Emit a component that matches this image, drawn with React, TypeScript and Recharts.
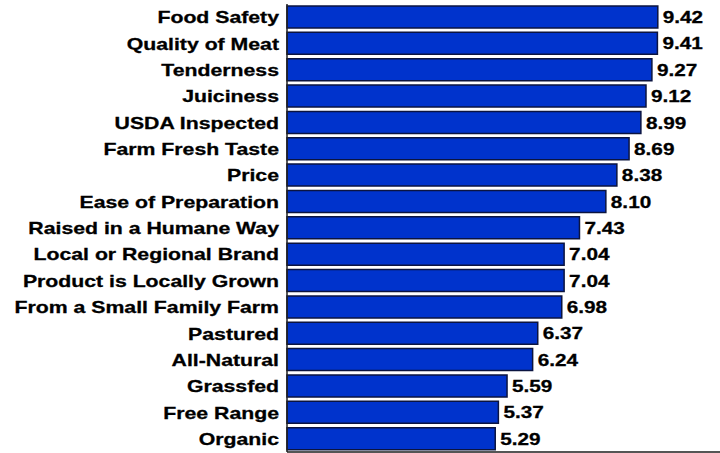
import { BarChart, Bar, XAxis, YAxis, LabelList } from "recharts";

const attributes = [
  "Food Safety",
  "Quality of Meat",
  "Tenderness",
  "Juiciness",
  "USDA Inspected",
  "Farm Fresh Taste",
  "Price",
  "Ease of Preparation",
  "Raised in a Humane Way",
  "Local or Regional Brand",
  "Product is Locally Grown",
  "From a Small Family Farm",
  "Pastured",
  "All-Natural",
  "Grassfed",
  "Free Range",
  "Organic",
];

const scores = [9.42, 9.41, 9.27, 9.12, 8.99, 8.69, 8.38, 8.1, 7.43, 7.04, 7.04, 6.98, 6.37, 6.24, 5.59, 5.37, 5.29];

const chartData = attributes.map((name, i) => ({ name, score: scores[i] }));

const FONT = "'Liberation Sans', Arial, Helvetica, sans-serif";
const STRETCH = 1.25;

function CategoryTick({ x, y, payload }: any) {
  return (
    <g transform={`translate(${x},${y})`}>
      <text
        transform={`scale(${STRETCH},1)`}
        textAnchor="end"
        dy="0.36em"
        fontFamily={FONT}
        fontWeight="bold"
        fontSize={17}
        fill="#000"
        stroke="#000"
        strokeWidth={0.3}
      >
        {payload.value}
      </text>
    </g>
  );
}

function ValueLabel({ x, y, width, height, value }: any) {
  const lx = x + width + 5;
  const ly = y + height / 2;
  return (
    <g transform={`translate(${lx},${ly})`}>
      <text
        transform={`scale(1.22,1)`}
        textAnchor="start"
        dy="0.36em"
        fontFamily={FONT}
        fontWeight="bold"
        fontSize={17}
        fill="#000"
        stroke="#000"
        strokeWidth={0.3}
      >
        {Number(value).toFixed(2)}
      </text>
    </g>
  );
}

export default function App() {
  return (
    <div style={{ position: "absolute", left: 0, top: 0, background: "#fff" }}>
      <BarChart
        width={720}
        height={453}
        data={chartData}
        layout="vertical"
        margin={{ top: 4, right: 0, bottom: 0, left: 0 }}
        barSize={22}
      >
        <XAxis
          type="number"
          domain={[0, 11]}
          tick={false}
          tickLine={false}
          height={1}
          axisLine={{ stroke: "#555", strokeWidth: 2 }}
        />
        <YAxis
          type="category"
          dataKey="name"
          width={287}
          tickLine={false}
          tickSize={6}
          tickMargin={2}
          interval={0}
          axisLine={{ stroke: "#222", strokeWidth: 1.5 }}
          tick={<CategoryTick />}
        />
        <Bar dataKey="score" fill="#0033cc" stroke="#0b1440" strokeWidth={1.5} isAnimationActive={false}>
          <LabelList dataKey="score" content={<ValueLabel />} />
        </Bar>
      </BarChart>
    </div>
  );
}
